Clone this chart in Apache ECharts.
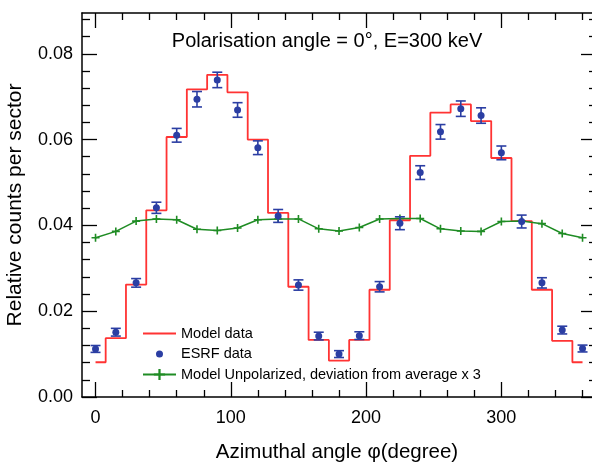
<!DOCTYPE html>
<html>
<head>
<meta charset="utf-8">
<script src="https://cdn.jsdelivr.net/npm/echarts@6/dist/echarts.min.js"></script>
<style>
  html, body { margin: 0; padding: 0; background: #fff; }
  #chart { width: 592px; height: 464px; }
</style>
</head>
<body>
<div id="chart"></div>
<script>
// azimuthal sectors (degree), 15 deg steps, 360 repeats 0
var angles = [0, 15, 30, 45, 60, 75, 90, 105, 120, 135, 150, 165, 180, 195, 210, 225, 240, 255, 270, 285, 300, 315, 330, 345, 360];

// model (step line)
var modelData = [0.0081, 0.0137, 0.0262, 0.0435, 0.0606, 0.0717, 0.0751, 0.0710, 0.0600, 0.0429, 0.0257, 0.0133, 0.0085,
                 0.0133, 0.0250, 0.0412, 0.0562, 0.0663, 0.0682, 0.0643, 0.0557, 0.0410, 0.0250, 0.0131, 0.0081];

// ESRF measurement + error
var esrfData = [0.0112, 0.0151, 0.0266, 0.0441, 0.0610, 0.0694, 0.0739, 0.0669, 0.0581, 0.0422, 0.0261, 0.0142, 0.0100,
                0.0143, 0.0257, 0.0405, 0.0523, 0.0618, 0.0672, 0.0656, 0.0569, 0.0409, 0.0266, 0.0156, 0.0113];
var esrfErr = [0.0008, 0.0009, 0.0010, 0.0013, 0.0016, 0.0018, 0.0018, 0.0017, 0.0016, 0.0015, 0.0012, 0.0009, 0.0008,
               0.0009, 0.0012, 0.0015, 0.0016, 0.0017, 0.0018, 0.0018, 0.0016, 0.0015, 0.0012, 0.0009, 0.0008];

// model unpolarized, deviation from average x 3
var unpolData = [0.0371, 0.0386, 0.0410, 0.0415, 0.0413, 0.0391, 0.0388, 0.0394, 0.0413, 0.0415, 0.0415, 0.0392, 0.0387,
                 0.0395, 0.0415, 0.0416, 0.0416, 0.0392, 0.0387, 0.0386, 0.0409, 0.0410, 0.0404, 0.0381, 0.0371];

var xMajor = [0, 100, 200, 300];
var xMinor = [20, 40, 60, 80, 120, 140, 160, 180, 220, 240, 260, 280, 320, 340, 360];
var yMajor = [0, 0.02, 0.04, 0.06, 0.08];
var yMinor = [0.004, 0.008, 0.012, 0.016, 0.024, 0.028, 0.032, 0.036, 0.044, 0.048, 0.052, 0.056, 0.064, 0.068, 0.072, 0.076, 0.084, 0.088];

var RED = '#ff3333', BLUE = '#2b3ea3', GREEN = '#1f8c24';
var FONT = '"Liberation Sans", Arial, sans-serif';

var chart = echarts.init(document.getElementById('chart'));

function pairs(ys) {
    return angles.map(function (a, i) { return [a, ys[i]]; });
}

// the frame is cut off at the right side of the picture
function xAx(pos, ticks, len, withLine, withLabel) {
    return {
        type: 'value', position: pos, min: -10, max: 367,
        axisLine: { show: withLine, onZero: false, lineStyle: { color: '#000', width: 1.5 } },
        axisTick: { inside: true, length: len, customValues: ticks, lineStyle: { color: '#000', width: 1.3 } },
        axisLabel: withLabel ? { customValues: xMajor, color: '#000', fontSize: 18, fontFamily: FONT, margin: 12 } : { show: false },
        splitLine: { show: false }
    };
}
function yAx(pos, ticks, len, withLine, withLabel) {
    return {
        type: 'value', position: pos, min: 0, max: 0.0895,
        axisLine: { show: withLine, onZero: false, lineStyle: { color: '#000', width: 1.5 } },
        axisTick: { inside: true, length: len, customValues: ticks, lineStyle: { color: '#000', width: 1.3 } },
        axisLabel: withLabel ? {
            customValues: yMajor, color: '#000', fontSize: 18, fontFamily: FONT, margin: 9,
            formatter: function (v) { return v.toFixed(2); }
        } : { show: false },
        splitLine: { show: false }
    };
}

var xAxes = [
    xAx('bottom', xMajor, 15, true, true),
    xAx('bottom', xMinor, 7, false, false),
    xAx('top', xMajor, 15, true, false),
    xAx('top', xMinor, 7, false, false)
];
xAxes[0].name = 'Azimuthal angle \u03c6(degree)';
xAxes[0].nameLocation = 'middle';
xAxes[0].nameGap = 45;
xAxes[0].nameTextStyle = { color: '#000', fontSize: 20.5, fontFamily: FONT };

var yAxes = [
    yAx('left', yMajor, 15, true, true),
    yAx('left', yMinor, 8, false, false),
    yAx('right', yMajor, 11, false, false),
    yAx('right', yMinor, 3, false, false)
];
yAxes[0].name = 'Relative counts per sector';
yAxes[0].nameLocation = 'middle';
yAxes[0].nameGap = 56;
yAxes[0].nameTextStyle = { color: '#000', fontSize: 21, fontFamily: FONT };

// error bars
function renderErr(params, api) {
    var x = api.value(0), y = api.value(1), e = api.value(2);
    var hi = api.coord([x, y + e]);
    var lo = api.coord([x, y - e]);
    var hw = 5;
    var st = { stroke: BLUE, lineWidth: 1.6 };
    return {
        type: 'group',
        children: [
            { type: 'line', shape: { x1: hi[0] - hw, y1: hi[1], x2: hi[0] + hw, y2: hi[1] }, style: st },
            { type: 'line', shape: { x1: hi[0], y1: hi[1], x2: lo[0], y2: lo[1] }, style: st },
            { type: 'line', shape: { x1: lo[0] - hw, y1: lo[1], x2: lo[0] + hw, y2: lo[1] }, style: st }
        ]
    };
}

var plusPath = 'path://M4,0h2v10h-2zM0,4h10v2h-10z';
// legend icons: tiny corner specks keep the 33x14 box
var box = 'M0,0h0.01v0.01h-0.01zM32.99,13.99h0.01v0.01h-0.01z';
var lineIcon = 'path://' + box + 'M0,6.1h33v1.8h-33z';
var dotIcon = 'path://' + box + 'M13,7a3.5,3.5 0 1,0 7,0a3.5,3.5 0 1,0 -7,0z';

var option = {
    animation: false,
    backgroundColor: '#fff',
    grid: { left: 82, top: 13, right: 0, bottom: 67, outerBoundsMode: 'none', containLabel: false },
    xAxis: xAxes,
    yAxis: yAxes,
    legend: {
        orient: 'vertical', left: 137, top: 321,
        itemWidth: 33, itemHeight: 14, itemGap: 5.5,
        textStyle: { color: '#000', fontSize: 14.5, fontFamily: FONT },
        data: [
            { name: 'Model data', icon: lineIcon },
            { name: 'ESRF data', icon: dotIcon },
            { name: 'Model Unpolarized, deviation from average x 3' }
        ]
    },
    graphic: [{
        type: 'text', x: 327, y: 41,
        style: {
            text: 'Polarisation angle = 0\u00b0, E=300 keV',
            fill: '#000', font: '20px ' + FONT, align: 'center', verticalAlign: 'middle'
        }
    }],
    series: [
        {
            name: 'Model data', type: 'line', step: 'middle', symbol: 'none',
            data: pairs(modelData),
            lineStyle: { color: RED, width: 1.8 }, itemStyle: { color: RED }, z: 2
        },
        {
            name: 'Model Unpolarized, deviation from average x 3', type: 'line',
            symbol: plusPath, symbolSize: 8, showSymbol: true,
            data: pairs(unpolData),
            lineStyle: { color: GREEN, width: 1.5 }, itemStyle: { color: GREEN }, z: 3
        },
        {
            name: 'ESRF err', type: 'custom', renderItem: renderErr,
            data: angles.map(function (a, i) { return [a, esrfData[i], esrfErr[i]]; }),
            z: 4
        },
        {
            name: 'ESRF data', type: 'scatter', symbol: 'circle', symbolSize: 7,
            data: pairs(esrfData),
            itemStyle: { color: BLUE, opacity: 1 }, z: 5
        }
    ]
};

chart.setOption(option);
</script>
</body>
</html>
